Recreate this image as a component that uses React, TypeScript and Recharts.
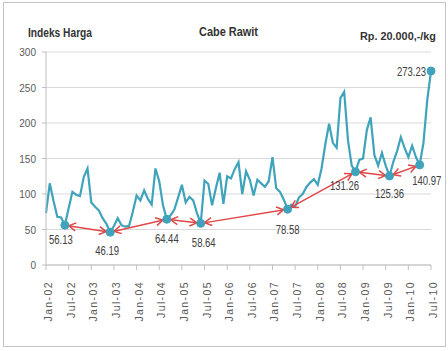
import React from "react";
import { LineChart, Line, XAxis, YAxis, CartesianGrid } from "recharts";

// Cabe Rawit price index, monthly Jan-02 .. Jul-10 (month 0 = Jan-02)
const PRICE = [
  73, 115, 90, 68, 67, 56.13, 80, 103, 99, 97, 124, 136,
  88, 82, 77, 66, 58, 46.19, 55, 66, 56, 54, 55, 75,
  98, 91, 105, 93, 85, 136, 118, 84, 64.44, 70, 78, 95,
  113, 88, 96, 91, 73, 58.64, 119, 114, 84, 108, 130, 86,
  125, 122, 135, 145, 100, 132, 120, 98, 120, 115, 110, 118,
  152, 108, 103, 92, 78.58, 85, 82, 95, 100, 110, 116, 121,
  113, 136, 170, 199, 172, 165, 235, 244, 176, 140, 131.26, 148,
  150, 190, 208, 155, 140, 158, 140, 125.36, 145, 160, 180, 165,
  152, 168, 152, 140.97, 172, 232, 273.23,
];

// marked lows (and the last point)
const LOW_MONTHS = [5, 17, 32, 41, 64, 82, 91, 99, 102];
const LOW_VALUES = [56.13, 46.19, 64.44, 58.64, 78.58, 131.26, 125.36, 140.97, 273.23];

const TICK_LABELS = [
  "Jan-02", "Jul-02", "Jan-03", "Jul-03", "Jan-04", "Jul-04", "Jan-05", "Jul-05", "Jan-06",
  "Jul-06", "Jan-07", "Jul-07", "Jan-08", "Jul-08", "Jan-09", "Jul-09", "Jan-10", "Jul-10",
];
const TICK_MONTHS = TICK_LABELS.map((_, i) => i * 6);
const Y_TICKS = [0, 50, 100, 150, 200, 250, 300];

// arrows join consecutive lows (not the last point)
const ARROW_COUNT = 7;

// label placement relative to the dot (text centre)
const LABEL_POS = [
  { dx: -4, dy: 15, anchor: "middle" },
  { dx: -3, dy: 19, anchor: "middle" },
  { dx: 0, dy: 20, anchor: "middle" },
  { dx: 3, dy: 20, anchor: "middle" },
  { dx: 0, dy: 21, anchor: "middle" },
  { dx: -11, dy: 14, anchor: "middle" },
  { dx: 0, dy: 18, anchor: "middle" },
  { dx: 7, dy: 16, anchor: "middle" },
  { dx: -5, dy: 1, anchor: "end" },
];

const TEAL = "#3fa3bc";
const RED = "#e04848";
const SANS = "'Liberation Sans', Arial, sans-serif";

// narrow look: squeeze text to a width like the original Calibri
const narrowWidth = (s: string) =>
  s.split("").reduce((w, c) => w + (c === "." || c === "," ? 2.6 : 5.3), 0);

const data = PRICE.map((v, m) => {
  const row: Record<string, number | null> = { m, price: v };
  const li = LOW_MONTHS.indexOf(m);
  row.low = li >= 0 ? LOW_VALUES[li] : null;
  for (let k = 0; k < ARROW_COUNT; k++) {
    if (m === LOW_MONTHS[k]) row[`a${k}`] = LOW_VALUES[k];
    else if (m === LOW_MONTHS[k + 1]) row[`a${k}`] = LOW_VALUES[k + 1];
    else row[`a${k}`] = null;
  }
  return row;
});

function XTick(props: any) {
  const { x, y, payload } = props;
  const label = TICK_LABELS[TICK_MONTHS.indexOf(payload.value)];
  const tx = x + 6;
  const ty = y + 9;
  return (
    <text
      x={tx}
      y={ty}
      transform={`rotate(-90 ${tx} ${ty})`}
      textAnchor="end"
      fill="#595959"
      fontSize={10.5}
      letterSpacing={1.4}
      fontFamily={SANS}
    >
      {label}
    </text>
  );
}

function YTick(props: any) {
  const { x, y, payload } = props;
  const s = String(payload.value);
  return (
    <text
      x={x}
      y={y}
      textAnchor="end"
      dominantBaseline="central"
      fill="#595959"
      fontSize={11.5}
      fontFamily={SANS}
      textLength={narrowWidth(s) * 1.05}
      lengthAdjust="spacingAndGlyphs"
    >
      {s}
    </text>
  );
}

const renderLowDot = (p: any) => {
  const { cx, cy, index, value } = p;
  if (value == null || cx == null || cy == null) return <g key={`ld${index}`} />;
  const k = LOW_MONTHS.indexOf(index);
  const pos = LABEL_POS[k] || LABEL_POS[0];
  const s = value.toFixed(2);
  return (
    <g key={`ld${index}`}>
      <circle cx={cx} cy={cy} r={4} fill={TEAL} stroke={TEAL} />
      <text
        x={cx + pos.dx}
        y={cy + pos.dy}
        textAnchor={pos.anchor as any}
        dominantBaseline="central"
        fill="#404040"
        fontSize={12}
        fontFamily={SANS}
        textLength={narrowWidth(s)}
        lengthAdjust="spacingAndGlyphs"
      >
        {s}
      </text>
    </g>
  );
};

export default function App() {
  const arrows = [];
  for (let k = 0; k < ARROW_COUNT; k++) {
    arrows.push(
      <Line
        key={`a${k}`}
        dataKey={`a${k}`}
        stroke={RED}
        strokeWidth={1.5}
        connectNulls
        dot={false}
        activeDot={false}
        markerStart="url(#arrowHead)"
        markerEnd="url(#arrowHead)"
        isAnimationActive={false}
      />
    );
  }

  return (
    <div
      style={{
        position: "absolute",
        left: 0,
        top: 0,
        width: 448,
        height: 351,
        background: "#fff",
        overflow: "hidden",
      }}
    >
      <div
        style={{
          position: "absolute",
          left: 3,
          top: 2,
          width: 443,
          height: 345,
          border: "1px solid #c4c4c4",
          boxSizing: "border-box",
        }}
      />
      <LineChart
        width={448}
        height={351}
        data={data}
        margin={{ top: 52, right: 17, bottom: 26, left: 0 }}
      >
        <CartesianGrid vertical={false} stroke="#d9d9d9" />
        <XAxis
          dataKey="m"
          type="number"
          domain={[0, 102]}
          ticks={TICK_MONTHS}
          interval={0}
          tickSize={5}
          height={60}
          stroke="#bfbfbf"
          tick={(p: any) => <XTick key={p.index} {...p} />}
        />
        <YAxis
          domain={[0, 300]}
          ticks={Y_TICKS}
          interval={0}
          width={46}
          tickSize={4}
          tickMargin={6}
          stroke="#bfbfbf"
          tick={(p: any) => <YTick key={p.index} {...p} />}
        />
        <Line
          dataKey="price"
          stroke={TEAL}
          strokeWidth={2.2}
          dot={false}
          activeDot={false}
          isAnimationActive={false}
        />
        {arrows}
        <Line
          dataKey="low"
          stroke="none"
          dot={renderLowDot}
          activeDot={false}
          isAnimationActive={false}
        />
      </LineChart>
      <svg
        width={448}
        height={351}
        style={{ position: "absolute", left: 0, top: 0, pointerEvents: "none" }}
      >
        <defs>
          <marker
            id="arrowHead"
            viewBox="0 0 16 10"
            refX={13}
            refY={5}
            markerWidth={16}
            markerHeight={10}
            markerUnits="userSpaceOnUse"
            orient="auto-start-reverse"
          >
            <path d="M2,1 L9,5 L2,9" fill="none" stroke={RED} strokeWidth={1.5} />
          </marker>
        </defs>
        <text
          x={28}
          y={33}
          dominantBaseline="central"
          fontSize={12.5}
          fontWeight="bold"
          fill="#333"
          fontFamily={SANS}
          textLength={64}
          lengthAdjust="spacingAndGlyphs"
        >
          Indeks Harga
        </text>
        <text
          x={199}
          y={32}
          dominantBaseline="central"
          fontSize={12.5}
          fontWeight="bold"
          fill="#333"
          fontFamily={SANS}
          textLength={59}
          lengthAdjust="spacingAndGlyphs"
        >
          Cabe Rawit
        </text>
        <text
          x={360}
          y={36}
          dominantBaseline="central"
          fontSize={11.5}
          fontWeight="bold"
          fill="#333"
          fontFamily={SANS}
          textLength={76}
          lengthAdjust="spacingAndGlyphs"
        >
          Rp. 20.000,-/kg
        </text>
      </svg>
    </div>
  );
}
